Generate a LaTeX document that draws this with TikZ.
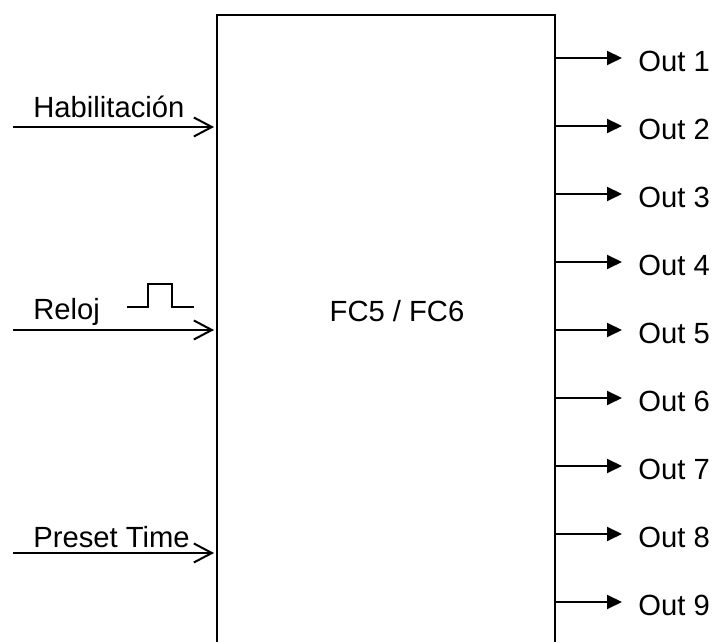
\documentclass[tikz,border=0pt]{standalone}
\usepackage{fontspec}
\setmainfont{Liberation Sans}
\usetikzlibrary{arrows.meta,positioning,calc}
\definecolor{fcink}{HTML}{000000}
\tikzset{
  fcblock/.style={draw=fcink, line width=0.85pt, minimum width=169pt,
                  minimum height=350pt, inner sep=0pt},
  fctext/.style={font=\fontsize{14.6}{17}\selectfont, text=fcink, inner sep=0pt},
  fcin/.style={-{Straight Barb[length=9pt,width=9.5pt]}, draw=fcink,
               line width=1pt, shorten >=1pt},
  fcout/.style={-{Triangle[length=7.5pt,width=7pt]}, draw=fcink, line width=1pt},
  fcpulse/.style={draw=fcink, line width=0.6pt},
}
\begin{document}
\begin{tikzpicture}[x=0.5pt,y=0.5pt]
  \useasboundingbox (0,0) rectangle (718,642);
  \clip (0,0) rectangle (718,642);

  % the block, running off the bottom edge
  \node[fcblock, anchor=north west] (fc) at (216,628) {};
  \node[fctext] (fcname) at (397,331) {FC5 / FC6};

  % inputs
  \coordinate (hab-in) at (13,515);
  \coordinate (clk-in) at (13,312);
  \coordinate (pre-in) at (13,89);
  \node[fctext, anchor=base west] (hab) at (33,524) {Habilitación};
  \node[fctext, anchor=base west] (clk) at (33,322) {Reloj};
  \node[fctext, anchor=base west] (pre) at (33,94) {Preset Time};
  \draw[fcin] (hab-in) -- (fc.west |- hab-in);
  \draw[fcin] (clk-in) -- (fc.west |- clk-in);
  \draw[fcin] (pre-in) -- (fc.west |- pre-in);

  % clock pulse
  \draw[fcpulse] (127,335) -- (148,335) -- (148,358) -- (172,358)
                 -- (172,335) -- (194,335);

  % outputs
  \foreach \i in {1,...,9} {
    \pgfmathsetmacro\yy{584-68*(\i-1)}
    \coordinate (tip\i) at (622,\yy);
    \node[fctext, anchor=base west] (out\i) at (638,\yy-14) {Out \i};
    \draw[fcout] (fc.east |- tip\i) -- (tip\i);
  }
\end{tikzpicture}
\end{document}
